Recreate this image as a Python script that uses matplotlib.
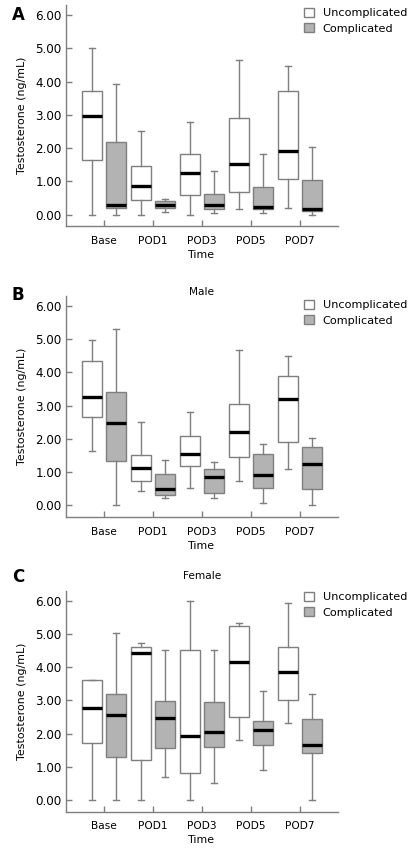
import matplotlib
matplotlib.use("Agg")
import matplotlib.pyplot as plt
from matplotlib.patches import Patch

categories = ["Base", "POD1", "POD3", "POD5", "POD7"]
yticks = [0, 1, 2, 3, 4, 5, 6]
ytick_labels = ["0.00", "1.00", "2.00", "3.00", "4.00", "5.00", "6.00"]
series_names = ["Uncomplicated", "Complicated"]

# each: [whisker_low, q1, median, q3, whisker_high]
A_unc = [[0.00, 1.64, 2.98, 3.73, 5.00],
         [0.00, 0.44, 0.85, 1.46, 2.50],
         [0.00, 0.58, 1.24, 1.82, 2.79],
         [0.16, 0.68, 1.51, 2.91, 4.66],
         [0.20, 1.07, 1.92, 3.71, 4.47]]
A_com = [[0.00, 0.19, 0.30, 2.18, 3.94],
         [0.07, 0.19, 0.30, 0.42, 0.47],
         [0.04, 0.17, 0.29, 0.62, 1.30],
         [0.04, 0.17, 0.22, 0.84, 1.82],
         [0.00, 0.12, 0.18, 1.05, 2.02]]
B_unc = [[1.65, 2.67, 3.27, 4.34, 4.99],
         [0.43, 0.72, 1.12, 1.53, 2.52],
         [0.51, 1.17, 1.55, 2.09, 2.82],
         [0.73, 1.45, 2.21, 3.04, 4.68],
         [1.09, 1.90, 3.21, 3.88, 4.48]]
B_com = [[0.00, 1.33, 2.48, 3.42, 5.32],
         [0.22, 0.32, 0.49, 0.93, 1.37],
         [0.22, 0.36, 0.85, 1.09, 1.32],
         [0.08, 0.53, 0.92, 1.56, 1.84],
         [0.00, 0.50, 1.25, 1.76, 2.02]]
C_unc = [[0.00, 1.70, 2.76, 3.62, 3.62],
         [0.00, 1.21, 4.41, 4.61, 4.71],
         [0.00, 0.81, 1.91, 4.50, 6.00],
         [1.80, 2.51, 4.16, 5.22, 5.32],
         [2.31, 3.00, 3.86, 4.61, 5.92]]
C_com = [[0.00, 1.29, 2.56, 3.20, 5.01],
         [0.69, 1.55, 2.46, 2.99, 4.51],
         [0.51, 1.60, 2.04, 2.95, 4.50],
         [0.90, 1.66, 2.10, 2.38, 3.28],
         [0.00, 1.41, 1.66, 2.44, 3.20]]

panels = [
    dict(letter="A", title=None, unc=A_unc, com=A_com, top=5.2, legy=15),
    dict(letter="B", title="Male", unc=B_unc, com=B_com, top=296, legy=307),
    dict(letter="C", title="Female", unc=C_unc, com=C_com, top=590.6, legy=599),
]
title_y = {"B": 291.7, "C": 576}
letter_y = {"A": 15, "B": 295, "C": 577}

W, H = 410, 850
fig = plt.figure(figsize=(W / 100, H / 100), dpi=100)
fig.patch.set_facecolor("white")

GRAY = "#7f7f7f"
FILL = "#b3b3b3"

def stats(rows):
    out = []
    for lo, q1, med, q3, hi in rows:
        out.append(dict(whislo=lo, q1=q1, med=med, q3=q3, whishi=hi, fliers=[]))
    return out

for p in panels:
    top_px = p["top"]
    h_px = 221
    ax = fig.add_axes([66 / W, 1 - (top_px + h_px) / H, 272 / W, h_px / H])
    for k, (rows, fc) in enumerate([(p["unc"], "white"), (p["com"], FILL)]):
        off = -0.245 if k == 0 else 0.245
        pos = [i + off for i in range(len(categories))]
        ax.bxp(stats(rows), positions=pos, widths=0.4, capwidths=0.12,
               showfliers=False, patch_artist=True, manage_ticks=False,
               boxprops=dict(facecolor=fc, edgecolor=GRAY, linewidth=1.0),
               whiskerprops=dict(color=GRAY, linewidth=1.0),
               capprops=dict(color=GRAY, linewidth=1.0),
               medianprops=dict(color="black", linewidth=2.4, solid_capstyle="butt"))
    ax.set_xlim(-0.78, 4.78)
    ax.set_ylim(-0.35, 6.3)
    ax.set_xticks(range(len(categories)))
    ax.set_xticklabels(categories, fontsize=7.6)
    ax.set_yticks(yticks)
    ax.set_yticklabels(ytick_labels, fontsize=8.6)
    ax.tick_params(axis="both", direction="in", length=4, color=GRAY, width=1.0)
    ax.tick_params(axis="x", pad=7)
    ax.tick_params(axis="y", pad=3)
    for s in ["top", "right"]:
        ax.spines[s].set_visible(False)
    for s in ["left", "bottom"]:
        ax.spines[s].set_color(GRAY)
        ax.spines[s].set_linewidth(1.0)
    ax.set_ylabel("Testosterone (ng/mL)", fontsize=7.9, labelpad=6)
    ax.set_xlabel("Time", fontsize=7.9, labelpad=3)
    if p["title"]:
        fig.text(202 / W, 1 - title_y[p["letter"]] / H, p["title"], ha="center",
                 va="center", fontsize=7.6)
    fig.text(12 / W, 1 - letter_y[p["letter"]] / H, p["letter"], ha="left",
             va="center", fontsize=12, fontweight="bold")
    handles = [Patch(facecolor="white", edgecolor=GRAY, linewidth=1.0),
               Patch(facecolor=FILL, edgecolor=GRAY, linewidth=1.0)]
    ax.legend(handles, series_names, loc="upper left",
              bbox_to_anchor=(304 / W, 1 - (p["legy"] - 7) / H),
              bbox_transform=fig.transFigure, frameon=False, fontsize=8.1,
              handlelength=0.85, handleheight=0.85, handletextpad=0.8,
              labelspacing=0.45, borderpad=0, borderaxespad=0)

fig.savefig("out.png", dpi=100, facecolor="white")
